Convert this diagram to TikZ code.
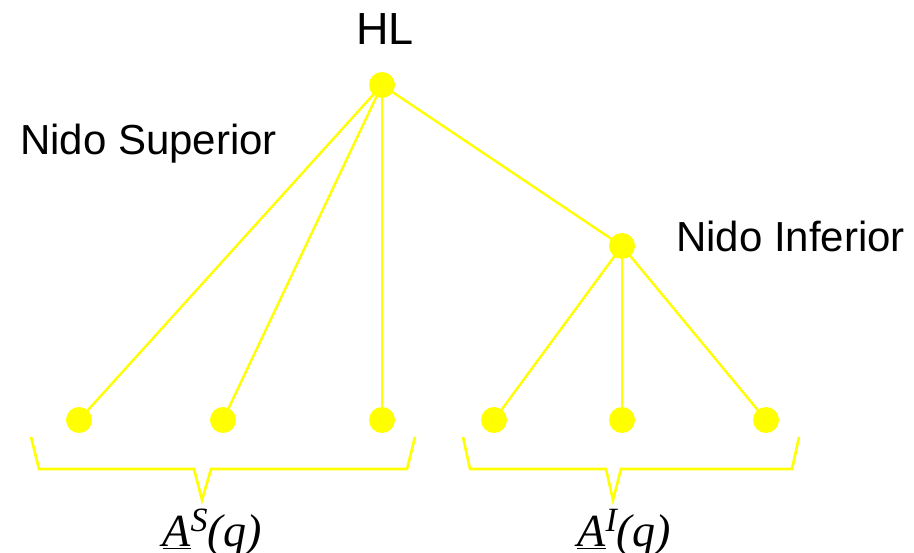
\documentclass[tikz,border=0pt]{standalone}
\usepackage{fontspec}
\setmainfont{Liberation Sans}
\newfontfamily\timesf{Liberation Serif}
\definecolor{ylw}{RGB}{255,255,0}
\newcommand{\supr}[1]{{\fontsize{34}{34}\selectfont\raisebox{15pt}{#1}}}
\begin{document}
\begin{tikzpicture}[x=1pt,y=-1pt,
  dot/.style={circle,fill=ylw,draw=none,minimum size=26pt,inner sep=0pt},
  edge/.style={draw=ylw,line width=2.4pt},
  brace/.style={draw=ylw,line width=2.6pt},
  lbl/.style={font=\fontsize{42}{50}\selectfont,inner sep=0pt},
  mlbl/.style={font=\timesf\itshape\fontsize{46}{54}\selectfont,inner sep=0pt,anchor=base}]
\useasboundingbox (0,0) rectangle (914,553);
\node[dot] (hl) at (382,85) {};
\node[dot] (ni) at (622,246) {};
\node[dot] (s1) at (79,420) {};
\node[dot] (s2) at (223,420) {};
\node[dot] (s3) at (382,420) {};
\node[dot] (i1) at (494,420) {};
\node[dot] (i2) at (622,420) {};
\node[dot] (i3) at (766,420) {};
\draw[edge] (hl.center) -- (s1.center);
\draw[edge] (hl.center) -- (s2.center);
\draw[edge] (hl.center) -- (s3.center);
\draw[edge] (hl.center) -- (ni.center);
\draw[edge] (ni.center) -- (i1.center);
\draw[edge] (ni.center) -- (i2.center);
\draw[edge] (ni.center) -- (i3.center);
\node[lbl,anchor=base,font=\fontsize{45}{50}\selectfont] (thl) at (385,45) {HL};
\node[lbl,anchor=base west] (tns) at (20,155) {Nido Superior};
\node[lbl,anchor=base west] (tni) at (676,252) {Nido Inferior};
\coordinate (bs) at (202,500);
\coordinate (bi) at (613,500);
\draw[brace,line join=miter] (31,437) -- (39,469) -- (194,469) -- (bs) -- (211,469) -- (407,469) -- (415,437);
\draw[brace,line join=miter] (463,437) -- (470,469) -- (606,469) -- (bi) -- (621,469) -- (792,469) -- (799,437);
\node[mlbl] (as) at (212,547) {\underline{A}\supr{S}(q)};
\node[mlbl] (ai) at (624,547) {\underline{A}\supr{I}(q)};
\end{tikzpicture}
\end{document}
